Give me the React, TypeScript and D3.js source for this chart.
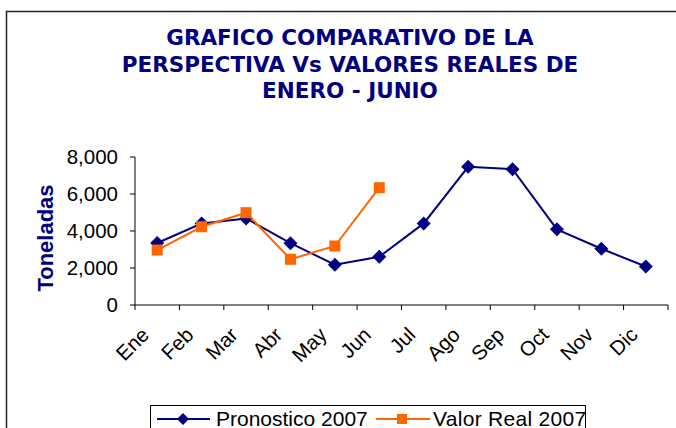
import * as d3 from "d3";

const months = ["Ene", "Feb", "Mar", "Abr", "May", "Jun", "Jul", "Ago", "Sep", "Oct", "Nov", "Dic"];
const pronostico = [3350, 4400, 4680, 3340, 2180, 2610, 4410, 7470, 7340, 4090, 3040, 2080];
const valorReal = [2970, 4230, 4990, 2470, 3190, 6340];
const yTicks = [0, 2000, 4000, 6000, 8000];
const titleLines = ["GRAFICO COMPARATIVO DE LA", "PERSPECTIVA Vs VALORES REALES DE", "ENERO - JUNIO"];

const NAVY = "#000080";
const ORANGE = "#FF6600";

export default function App() {
  const width = 676;
  const height = 428;
  const marginLeft = 135;
  const marginRight = 8;
  const marginTop = 157;
  const bottom = 305;

  const x = d3.scaleBand(months, [marginLeft, width - marginRight]);
  const cx = (i: number) => x(months[i])! + x.bandwidth() / 2;
  const y = d3.scaleLinear([0, 8000], [bottom, marginTop]);

  const line = d3.line<number>((d, i) => cx(i), (d) => y(d));
  const diamond = (s: number) => `M0,${-s}L${s},0L0,${s}L${-s},0Z`;

  const font = "'Liberation Sans', Arial, sans-serif";

  return (
    <svg width={width} height={height} style={{ position: "absolute", left: 0, top: 0 }}>
      <rect x={0} y={0} width={width} height={height} fill="white" />
      <rect x={6.5} y={11.5} width={width + 20} height={height + 20} fill="none" stroke="#222" strokeWidth={1.5} />

      <g fontFamily="'DejaVu Sans', Verdana, sans-serif" fontWeight="bold" fontSize={21.5} fill={NAVY} textAnchor="middle">
        {titleLines.map((t, i) => (
          <text key={i} x={350} y={45 + i * 26.5}>{t}</text>
        ))}
      </g>

      <text
        transform={`translate(53,238) rotate(-90)`}
        textAnchor="middle"
        fontFamily={font}
        fontWeight="bold"
        fontSize={22}
        fill={NAVY}
      >
        Toneladas
      </text>

      {/* y axis */}
      <g fontFamily={font} fontSize={20.5} fill="#000">
        <line x1={marginLeft} x2={marginLeft} y1={marginTop} y2={bottom} stroke="#000" strokeWidth={1} />
        {yTicks.map((t) => (
          <g key={t}>
            <line x1={marginLeft - 5} x2={marginLeft} y1={y(t)} y2={y(t)} stroke="#000" />
            <text x={marginLeft - 17} y={y(t)} dy="0.36em" textAnchor="end">{d3.format(",")(t)}</text>
          </g>
        ))}
      </g>

      {/* x axis */}
      <g fontFamily={font} fontSize={20.5} fill="#000">
        <line x1={marginLeft} x2={width - marginRight} y1={bottom} y2={bottom} stroke="#000" strokeWidth={1} />
        {months.map((m, i) => (
          <g key={m}>
            <line x1={x(m)!} x2={x(m)!} y1={bottom} y2={bottom + 5} stroke="#000" />
            <text transform={`translate(${cx(i) - 12},${bottom + 26}) rotate(-45)`} textAnchor="end" dy="0.35em">{m}</text>
          </g>
        ))}
        <line x1={width - marginRight} x2={width - marginRight} y1={bottom} y2={bottom + 5} stroke="#000" />
      </g>

      {/* series */}
      <path d={line(pronostico)!} fill="none" stroke={NAVY} strokeWidth={2} />
      {pronostico.map((d, i) => (
        <path key={i} d={diamond(7)} transform={`translate(${cx(i)},${y(d)})`} fill={NAVY} />
      ))}
      <path d={line(valorReal)!} fill="none" stroke={ORANGE} strokeWidth={2} />
      {valorReal.map((d, i) => (
        <rect key={i} x={cx(i) - 5.5} y={y(d) - 5.5} width={11} height={11} fill={ORANGE} />
      ))}

      {/* legend */}
      <g fontFamily={font} fontSize={21} fill="#000">
        <rect x={150.5} y={405.5} width={435} height={40} fill="white" stroke="#000" strokeWidth={1} />
        <line x1={157} x2={210} y1={419} y2={419} stroke={NAVY} strokeWidth={2} />
        <path d={diamond(6)} transform="translate(183,419)" fill={NAVY} />
        <text x={216} y={425.5}>Pronostico 2007</text>
        <line x1={376} x2={430} y1={419} y2={419} stroke={ORANGE} strokeWidth={2} />
        <rect x={397} y={414} width={10} height={10} fill={ORANGE} />
        <text x={433} y={425.5} letterSpacing={0.3}>Valor Real 2007</text>
      </g>
    </svg>
  );
}
